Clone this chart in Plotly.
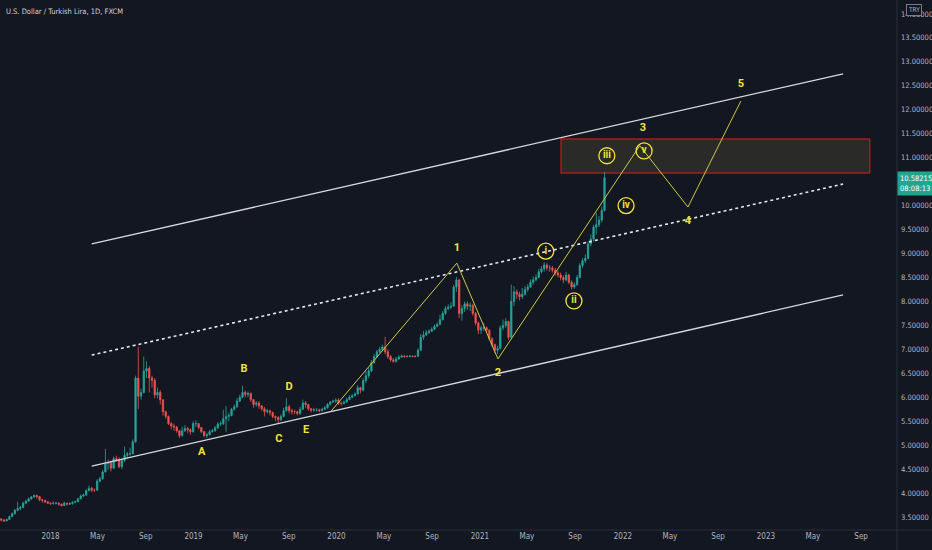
import pandas as pd
import plotly.graph_objects as go

# ---------------- weekly candle data (close, high, low); open = previous close ----------------
first_open = 3.46
week_start = "2017-08-28"

w2017 = [(3.44, 3.48, 3.41), (3.42, 3.46, 3.40), (3.45, 3.47, 3.41), (3.51, 3.53, 3.44), (3.57, 3.60, 3.50),
         (3.64, 3.67, 3.55), (3.68, 3.82, 3.62), (3.70, 3.73, 3.64), (3.79, 3.82, 3.69), (3.83, 3.86, 3.77),
         (3.88, 3.91, 3.82), (3.92, 3.94, 3.86), (3.95, 3.97, 3.90), (3.93, 3.97, 3.88), (3.86, 3.93, 3.83),
         (3.85, 3.88, 3.80), (3.82, 3.86, 3.79), (3.79, 3.83, 3.77)]
w2018 = [(3.78, 3.81, 3.75), (3.79, 3.83, 3.76), (3.79, 3.82, 3.76), (3.77, 3.81, 3.73), (3.74, 3.78, 3.72),
         (3.79, 3.82, 3.73), (3.77, 3.80, 3.74), (3.78, 3.81, 3.75), (3.81, 3.83, 3.76),
         (3.82, 3.85, 3.79), (3.88, 3.90, 3.81), (3.94, 3.97, 3.87), (3.96, 3.99, 3.92),
         (4.05, 4.08, 3.94), (4.10, 4.16, 4.04), (4.06, 4.13, 4.02), (4.06, 4.10, 4.02), (4.25, 4.29, 4.05),
         (4.30, 4.34, 4.22), (4.44, 4.48, 4.28), (4.62, 4.92, 4.43), (4.64, 4.70, 4.48),
         (4.52, 4.68, 4.45), (4.72, 4.76, 4.50), (4.70, 4.78, 4.65), (4.55, 4.75, 4.52),
         (4.68, 4.72, 4.50), (4.79, 4.97, 4.65), (4.82, 4.86, 4.72), (4.82, 4.95, 4.78), (5.07, 5.12, 4.84),
         (6.40, 6.45, 5.05), (6.02, 7.05, 5.75), (6.10, 6.18, 5.95), (6.55, 6.85, 6.08),
         (6.60, 6.75, 6.40), (6.40, 6.65, 6.10), (6.35, 6.45, 6.20), (6.05, 6.40, 5.98),
         (6.10, 6.20, 5.98), (5.95, 6.15, 5.85), (5.70, 5.95, 5.62), (5.60, 5.72, 5.55), (5.45, 5.62, 5.42),
         (5.40, 5.48, 5.33), (5.38, 5.45, 5.30), (5.30, 5.40, 5.26), (5.20, 5.32, 5.15),
         (5.30, 5.38, 5.18), (5.35, 5.42, 5.28), (5.32, 5.38, 5.25), (5.28, 5.35, 5.22), (5.45, 5.50, 5.26)]
w2019 = [(5.45, 5.52, 5.38), (5.37, 5.46, 5.33), (5.28, 5.38, 5.25), (5.20, 5.30, 5.16),
         (5.22, 5.26, 5.15), (5.28, 5.32, 5.20), (5.30, 5.34, 5.26), (5.36, 5.40, 5.28),
         (5.44, 5.48, 5.34), (5.45, 5.50, 5.40), (5.55, 5.74, 5.42), (5.60, 5.82, 5.28),
         (5.62, 5.68, 5.50), (5.75, 5.78, 5.60), (5.80, 5.85, 5.72), (5.92, 5.98, 5.78), (6.00, 6.05, 5.90),
         (6.10, 6.24, 5.98), (6.06, 6.14, 6.00), (6.08, 6.12, 6.00), (5.95, 6.10, 5.90),
         (5.85, 5.96, 5.78), (5.88, 5.92, 5.80), (5.82, 5.92, 5.76), (5.76, 5.84, 5.72),
         (5.70, 5.80, 5.60), (5.72, 5.76, 5.66), (5.68, 5.74, 5.62), (5.60, 5.70, 5.56), (5.58, 5.62, 5.50),
         (5.53, 5.60, 5.46), (5.60, 5.64, 5.50), (5.72, 5.78, 5.58), (5.80, 5.98, 5.70),
         (5.72, 5.84, 5.66), (5.70, 5.76, 5.64), (5.70, 5.74, 5.65), (5.66, 5.72, 5.62), (5.75, 5.80, 5.63),
         (5.88, 5.95, 5.74), (5.85, 5.92, 5.78), (5.76, 5.86, 5.72), (5.73, 5.78, 5.68),
         (5.74, 5.78, 5.70), (5.74, 5.77, 5.70), (5.72, 5.76, 5.69), (5.75, 5.78, 5.70),
         (5.78, 5.82, 5.73), (5.85, 5.88, 5.76), (5.90, 5.92, 5.83), (5.92, 5.95, 5.88), (5.94, 5.98, 5.88)]
w2020 = [(5.88, 5.98, 5.84), (5.87, 5.91, 5.83), (5.90, 5.93, 5.85), (5.95, 5.99, 5.88),
         (6.00, 6.04, 5.94), (6.03, 6.06, 5.98), (6.07, 6.10, 6.02), (6.20, 6.25, 6.06),
         (6.15, 6.22, 6.08), (6.35, 6.40, 6.12), (6.45, 6.55, 6.30), (6.55, 6.62, 6.40), (6.72, 6.78, 6.52),
         (6.85, 6.90, 6.70), (6.95, 6.99, 6.82), (7.00, 7.05, 6.92), (7.05, 7.10, 6.96),
         (6.95, 7.26, 6.90), (6.85, 7.00, 6.80), (6.78, 6.88, 6.74), (6.75, 6.82, 6.72),
         (6.80, 6.84, 6.72), (6.84, 6.88, 6.78), (6.86, 6.89, 6.82), (6.85, 6.88, 6.82), (6.85, 6.88, 6.83),
         (6.86, 6.88, 6.83), (6.85, 6.87, 6.83), (6.85, 6.88, 6.83), (6.98, 7.02, 6.84),
         (7.25, 7.32, 6.97), (7.30, 7.38, 7.20), (7.35, 7.40, 7.28), (7.38, 7.42, 7.32), (7.42, 7.46, 7.36),
         (7.48, 7.52, 7.40), (7.52, 7.56, 7.46), (7.62, 7.72, 7.50), (7.75, 7.80, 7.60),
         (7.85, 7.90, 7.72), (7.88, 7.94, 7.82), (7.90, 7.98, 7.84), (8.30, 8.35, 7.92),
         (8.45, 8.51, 8.20), (7.75, 8.40, 7.65), (7.85, 7.92, 7.60), (7.95, 8.00, 7.78), (7.90, 8.00, 7.82),
         (7.92, 7.98, 7.80), (7.75, 7.95, 7.70), (7.55, 7.78, 7.50), (7.40, 7.58, 7.32)]
w2021 = [(7.45, 7.50, 7.32), (7.45, 7.55, 7.38), (7.40, 7.48, 7.35), (7.22, 7.42, 7.18),
         (7.10, 7.25, 7.05), (6.98, 7.12, 6.92), (7.02, 7.08, 6.90), (7.45, 7.50, 7.00),
         (7.50, 7.62, 7.40), (7.58, 7.65, 7.45), (7.25, 7.60, 7.20), (8.00, 8.35, 7.60), (8.20, 8.32, 7.90),
         (8.15, 8.25, 8.05), (8.10, 8.20, 8.02), (8.15, 8.28, 8.05), (8.25, 8.32, 8.12),
         (8.30, 8.36, 8.20), (8.40, 8.46, 8.28), (8.45, 8.52, 8.35), (8.50, 8.56, 8.42), (8.62, 8.68, 8.48),
         (8.68, 8.74, 8.58), (8.76, 8.82, 8.62), (8.70, 8.80, 8.64), (8.70, 8.76, 8.62),
         (8.65, 8.74, 8.60), (8.60, 8.70, 8.54), (8.55, 8.64, 8.50), (8.50, 8.60, 8.44),
         (8.45, 8.54, 8.38), (8.55, 8.62, 8.42), (8.40, 8.58, 8.36), (8.30, 8.44, 8.25), (8.35, 8.40, 8.26),
         (8.50, 8.55, 8.32), (8.75, 8.80, 8.48), (8.85, 8.90, 8.70), (8.90, 8.98, 8.80),
         (9.20, 9.25, 8.88), (9.30, 9.40, 9.15), (9.55, 9.60, 9.25), (9.60, 9.85, 9.40),
         (9.70, 9.78, 9.55), (9.90, 9.98, 9.65), (10.58, 10.70, 9.88)]

last_price_text = "10.58215"
countdown_text = "08:08:13"

# ---------------- drawing anchors (date, price) ----------------
channel_dates = ["2018-04-16", "2023-07-17"]
channel_upper = [9.20, 12.75]
channel_mid = [6.88, 10.45]
channel_lower = [4.565, 8.135]

wave_dates = ["2019-12-18", "2020-11-03", "2021-02-16", "2022-02-13", "2022-06-16", "2022-10-29"]
wave_prices = [5.71, 8.80, 6.80, 11.25, 9.97, 12.18]

label_text = ["1", "2", "3", "4", "5", "A", "B", "C", "D", "E"]
label_dates = ["2020-11-03", "2021-02-16", "2022-02-21", "2022-06-16", "2022-10-29",
               "2019-01-22", "2019-05-10", "2019-08-07", "2019-09-02", "2019-10-15"]
label_prices = [9.12, 6.51, 11.62, 9.68, 12.54, 4.86, 6.59, 5.13, 6.21, 5.32]

circ_text = ["i", "ii", "iii", "iv", "v"]
circ_dates = ["2021-06-18", "2021-08-29", "2021-11-21", "2022-01-09", "2022-02-24"]
circ_prices = [9.05, 8.01, 11.04, 10.00, 11.14]

zone_dates = ["2021-07-27", "2023-09-23"]
zone_prices = [10.68, 11.39]

tick_dates = ["2017-09-01", "2018-01-01", "2018-05-01", "2018-09-01", "2019-01-01", "2019-05-01",
              "2019-09-01", "2020-01-01", "2020-05-01", "2020-09-01", "2021-01-01", "2021-05-01",
              "2021-09-01", "2022-01-01", "2022-05-01", "2022-09-01", "2023-01-01", "2023-05-01",
              "2023-09-01"]
tick_text = ["Sep", "2018", "May", "Sep", "2019", "May", "Sep", "2020", "May", "Sep", "2021", "May",
             "Sep", "2022", "May", "Sep", "2023", "May", "Sep"]

# 10.5 sits under the last-price tag, as in the reference
price_ticks = [3.5, 4.0, 4.5, 5.0, 5.5, 6.0, 6.5, 7.0, 7.5, 8.0, 8.5, 9.0, 9.5, 10.0,
               11.0, 11.5, 12.0, 12.5, 13.0, 13.5, 14.0]

# ---------------- build OHLC ----------------
weeks = w2017 + w2018 + w2019 + w2020 + w2021
closes = [w[0] for w in weeks]
opens = [first_open] + closes[:-1]
highs = [max(w[1], o, w[0]) for w, o in zip(weeks, opens)]
lows = [min(w[2], o, w[0]) for w, o in zip(weeks, opens)]
dates = pd.date_range(week_start, periods=len(weeks), freq="7D")

BG = "#131722"
AXIS_LINE = "#2a2e39"
YEL_TXT = "#f2e23c"
YEL_LINE = "#cfc845"
FONT = "Liberation Sans Narrow, DejaVu Sans Condensed, Roboto, sans-serif"

fig = go.Figure()

# zone rectangle (behind)
fig.add_shape(type="rect", xref="x", yref="y",
              x0=zone_dates[0], x1=zone_dates[1], y0=zone_prices[0], y1=zone_prices[1],
              line=dict(color="#a61c1c", width=1.5), fillcolor="rgba(70,66,50,0.45)", layer="below")

# channel lines
fig.add_trace(go.Scatter(x=channel_dates, y=channel_upper, mode="lines",
                         line=dict(color="#d8d9dc", width=1.3), hoverinfo="skip"))
fig.add_trace(go.Scatter(x=channel_dates, y=channel_lower, mode="lines",
                         line=dict(color="#d8d9dc", width=1.3), hoverinfo="skip"))
fig.add_trace(go.Scatter(x=channel_dates, y=channel_mid, mode="lines",
                         line=dict(color="#e6e7ea", width=1.6, dash="dot"), hoverinfo="skip"))

# candles
fig.add_trace(go.Candlestick(x=dates, open=opens, high=highs, low=lows, close=closes,
                             increasing=dict(line=dict(color="#26a69a", width=0.8), fillcolor="#26a69a"),
                             decreasing=dict(line=dict(color="#ef5350", width=0.8), fillcolor="#ef5350"),
                             whiskerwidth=0, hoverinfo="skip"))

# wave path
fig.add_trace(go.Scatter(x=wave_dates, y=wave_prices, mode="lines",
                         line=dict(color=YEL_LINE, width=1), hoverinfo="skip"))

# letter / number labels
fig.add_trace(go.Scatter(x=label_dates, y=label_prices, mode="text", text=label_text,
                         textposition="middle center",
                         textfont=dict(color=YEL_TXT, size=11, family="Roboto", weight="bold"),
                         hoverinfo="skip"))

# circled sub-wave labels
fig.add_trace(go.Scatter(x=circ_dates, y=circ_prices, mode="markers+text", text=circ_text,
                         textposition="middle center",
                         marker=dict(symbol="circle-open", size=16, color=YEL_TXT, line=dict(width=1.3)),
                         textfont=dict(color=YEL_TXT, size=10, family="Roboto", weight="bold"),
                         hoverinfo="skip"))

fig.update_layout(
    width=932, height=550,
    margin=dict(l=0, r=35, t=0, b=20, autoexpand=False),
    paper_bgcolor=BG, plot_bgcolor=BG,
    showlegend=False,
    font=dict(family=FONT, color="#b2b5be", size=8),
)
fig.update_xaxes(type="date", range=["2017-08-25", "2023-12-01 14:00"],
                 tickvals=tick_dates, ticktext=tick_text, tickfont=dict(size=8, color="#b2b5be"),
                 showgrid=False, zeroline=False, showline=False,
                 ticks="", rangeslider=dict(visible=False), automargin=False)
fig.update_yaxes(side="right", range=[3.23, 14.29], tickvals=price_ticks,
                 ticktext=[f"{v:.5f}" for v in price_ticks], tickfont=dict(size=7.5, color="#b2b5be"),
                 showgrid=False, zeroline=False, showline=False,
                 ticks="", ticklabelstandoff=3, automargin=False)

# axis separators spanning into the margins
fig.add_shape(type="line", xref="paper", yref="paper", x0=0, x1=1 + 35 / 897, y0=0, y1=0,
              line=dict(color=AXIS_LINE, width=1))
fig.add_shape(type="line", xref="paper", yref="paper", x0=1, x1=1, y0=-20 / 530, y1=1,
              line=dict(color=AXIS_LINE, width=1))

# title
fig.add_annotation(xref="paper", yref="paper", x=0.004, y=0.978, xanchor="left", yanchor="middle",
                   text="U.S. Dollar / Turkish Lira, 1D, FXCM", showarrow=False,
                   font=dict(size=7.5, color="#d1d4dc", family=FONT))
# currency badge
fig.add_annotation(xref="paper", yref="paper", x=1.0195, y=0.982, xanchor="center", yanchor="middle",
                   text="TRY", showarrow=False, bgcolor=BG, bordercolor="#787b86", borderwidth=1,
                   borderpad=1, font=dict(size=6.5, color="#b2b5be", family=FONT))
# last price tag
fig.add_annotation(xref="paper", yref="y", x=1.0, y=closes[-1] - 0.12, xanchor="left", yanchor="middle",
                   text=f"{last_price_text}<br>{countdown_text}", showarrow=False, align="left",
                   bgcolor="#22a58f", borderpad=2, font=dict(size=7.5, color="#ffffff", family=FONT))

fig.write_html("out.html", config={"displayModeBar": False},
               post_script="document.body.style.margin='0px';document.body.style.overflow='hidden';")
